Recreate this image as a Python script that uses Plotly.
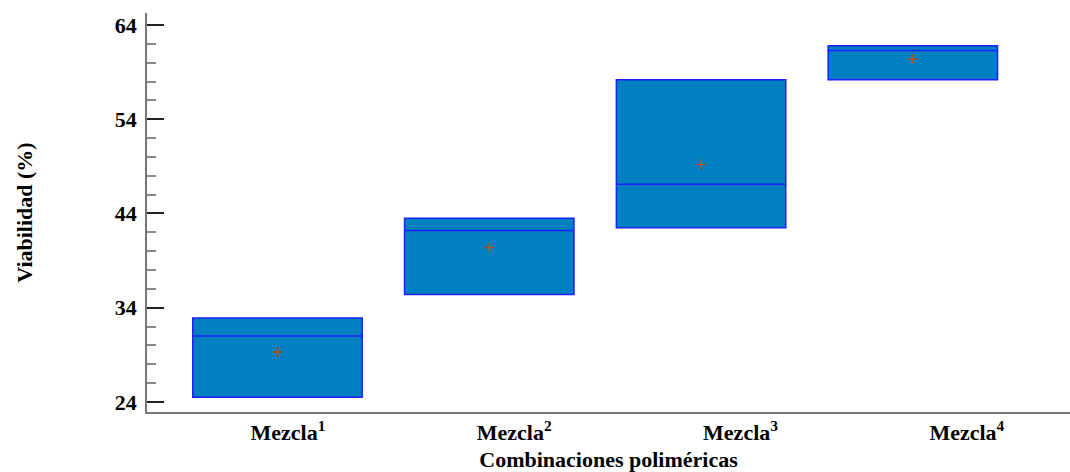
import plotly.graph_objects as go

# Viability (%) per polymer blend: box quartiles and mean
categories = ["Mezcla<sup>1</sup>", "Mezcla<sup>2</sup>", "Mezcla<sup>3</sup>", "Mezcla<sup>4</sup>"]
q1 = [24.5, 35.4, 42.5, 58.2]
median = [31.0, 42.2, 47.1, 61.3]
q3 = [32.9, 43.5, 58.2, 61.8]
mean = [29.3, 40.4, 49.2, 60.4]
y_ticks = [24, 34, 44, 54, 64]

positions = list(range(len(categories)))
font_family = "Liberation Serif"

fig = go.Figure()

fig.add_trace(go.Box(
    x=positions,
    q1=q1,
    median=median,
    q3=q3,
    lowerfence=q1,
    upperfence=q3,
    width=0.8,
    whiskerwidth=0,
    fillcolor="#0080C0",
    line=dict(color="#1F1FFF", width=1.5),
    boxpoints=False,
    showlegend=False,
    hoverinfo="skip",
))

fig.add_trace(go.Scatter(
    x=positions,
    y=mean,
    mode="markers",
    marker=dict(symbol="cross-thin", size=7, line=dict(color="#B4541C", width=1.5)),
    showlegend=False,
    hoverinfo="skip",
))

# carrier trace so the label axis is drawn
fig.add_trace(go.Scatter(
    x=positions,
    y=mean,
    xaxis="x2",
    mode="markers",
    marker=dict(size=1, opacity=0),
    showlegend=False,
    hoverinfo="skip",
))

fig.update_layout(
    width=1070,
    height=472,
    margin=dict(l=147, r=0, t=13, b=60),
    plot_bgcolor="white",
    paper_bgcolor="white",
    font=dict(family=font_family, size=22, color="black"),
    xaxis=dict(
        range=[-0.616, 3.742],
        showticklabels=False,
        ticks="",
        showgrid=False,
        zeroline=False,
        showline=True,
        linecolor="#777777",
        linewidth=1.5,
    ),
    xaxis2=dict(
        overlaying="x",
        side="bottom",
        range=[-0.623, 3.456],
        tickmode="array",
        tickvals=positions,
        ticktext=categories,
        ticks="",
        showgrid=False,
        zeroline=False,
        showline=False,
        tickfont=dict(family=font_family, size=22, weight="bold", color="black"),
        ticklabelstandoff=5,
        title=dict(
            text="Combinaciones poliméricas",
            font=dict(family=font_family, size=22, weight="bold", color="black"),
            standoff=9,
        ),
    ),
    yaxis=dict(
        range=[22.94, 65.27],
        tickmode="array",
        tickvals=y_ticks,
        ticks="inside",
        ticklen=17,
        tickwidth=1.5,
        tickcolor="#222222",
        minor=dict(dtick=2, tick0=24, ticks="inside", ticklen=9, tickwidth=1.5, tickcolor="#888888", showgrid=False),
        showgrid=False,
        zeroline=False,
        showline=True,
        linecolor="#777777",
        linewidth=1.5,
        tickfont=dict(family=font_family, size=22, weight="bold", color="black"),
        ticklabelstandoff=4,
        title=dict(
            text="Viabilidad (%)",
            font=dict(family=font_family, size=22, weight="bold", color="black"),
            standoff=76,
        ),
    ),
)

fig.write_html("out.html")
